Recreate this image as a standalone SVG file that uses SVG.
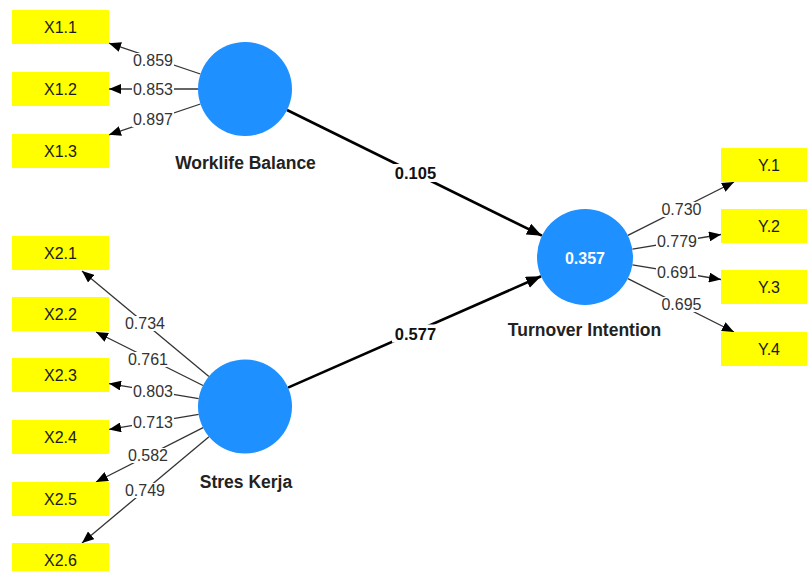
<svg xmlns="http://www.w3.org/2000/svg" width="807" height="571" viewBox="0 0 807 571">
<style>
.box{fill:#FFFF00;}
.bt{font-family:"Liberation Sans",Arial,sans-serif;font-size:16px;fill:#1a1a1a;text-anchor:middle;}
.lv{fill:#1E90FF;}
.lvl{font-family:"Liberation Sans",Arial,sans-serif;font-size:17.5px;font-weight:bold;fill:#222;text-anchor:middle;}
.r2{font-family:"Liberation Sans",Arial,sans-serif;font-size:16px;font-weight:bold;fill:#ffffff;text-anchor:middle;}
.ld{stroke:#333;stroke-width:1.3;fill:none;marker-end:url(#ah);}
.pc{stroke:#000;stroke-width:2.6;fill:none;marker-end:url(#ahb);}
.bg{fill:#fff;}
.ll{font-family:"Liberation Sans",Arial,sans-serif;font-size:16px;fill:#333;text-anchor:middle;}
.pl{font-family:"Liberation Sans",Arial,sans-serif;font-size:16.5px;font-weight:bold;fill:#111;text-anchor:middle;}
</style>
<defs>
<marker id="ah" markerUnits="userSpaceOnUse" markerWidth="12" markerHeight="10" refX="12" refY="5" orient="auto"><path d="M0,0 L12,5 L0,10 z" fill="#000"/></marker>
<marker id="ahb" markerUnits="userSpaceOnUse" markerWidth="15" markerHeight="12" refX="15" refY="6" orient="auto"><path d="M0,0 L15,6 L0,12 z" fill="#000"/></marker>
</defs>
<rect width="807" height="571" fill="#fff"/>
<g id="connectors">
<line class="ld" x1="200.4" y1="74" x2="109" y2="43.2"/>
<line class="ld" x1="198" y1="89" x2="109" y2="89"/>
<line class="ld" x1="200.4" y1="104" x2="109" y2="134.8"/>
<line class="ld" x1="208.9" y1="376.4" x2="82" y2="271"/>
<line class="ld" x1="203" y1="385.5" x2="96" y2="332"/>
<line class="ld" x1="198.7" y1="398.7" x2="109" y2="383.6"/>
<line class="ld" x1="198.7" y1="414.3" x2="109" y2="429.4"/>
<line class="ld" x1="203.1" y1="427.7" x2="96" y2="482"/>
<line class="ld" x1="209" y1="436.7" x2="82" y2="543"/>
<line class="ld" x1="627.9" y1="235.4" x2="734" y2="182"/>
<line class="ld" x1="632.4" y1="249.2" x2="721" y2="234.5"/>
<line class="ld" x1="632.4" y1="264.8" x2="721" y2="279.5"/>
<line class="ld" x1="627.9" y1="278.6" x2="734" y2="332"/>
<line class="pc" x1="287" y1="110" x2="541.9" y2="235.7"/>
<line class="pc" x1="288" y1="387.6" x2="541.1" y2="276.3"/>
<rect class="bg" x="132" y="53" width="42" height="15"/><text class="ll" x="153" y="65.7">0.859</text>
<rect class="bg" x="132" y="82" width="42" height="15"/><text class="ll" x="153" y="94.7">0.853</text>
<rect class="bg" x="132" y="112" width="42" height="15"/><text class="ll" x="153" y="124.7">0.897</text>
<rect class="bg" x="124" y="316" width="42" height="15"/><text class="ll" x="145" y="329.2">0.734</text>
<rect class="bg" x="127" y="352" width="42" height="15"/><text class="ll" x="148" y="365.2">0.761</text>
<rect class="bg" x="132" y="384" width="42" height="15"/><text class="ll" x="153" y="396.7">0.803</text>
<rect class="bg" x="132" y="415" width="42" height="15"/><text class="ll" x="153" y="427.7">0.713</text>
<rect class="bg" x="127" y="448" width="42" height="15"/><text class="ll" x="148" y="460.7">0.582</text>
<rect class="bg" x="124" y="483" width="42" height="15"/><text class="ll" x="145" y="495.7">0.749</text>
<rect class="bg" x="660.5" y="202" width="42" height="15"/><text class="ll" x="681.5" y="214.7">0.730</text>
<rect class="bg" x="656" y="234" width="42" height="15"/><text class="ll" x="677" y="246.7">0.779</text>
<rect class="bg" x="656" y="265.5" width="42" height="15"/><text class="ll" x="677" y="278.2">0.691</text>
<rect class="bg" x="660.5" y="297" width="42" height="15"/><text class="ll" x="681.5" y="309.7">0.695</text>
<rect class="bg" x="392" y="164" width="47" height="18"/><text class="pl" x="415.5" y="179">0.105</text>
<rect class="bg" x="392" y="324.5" width="47" height="18"/><text class="pl" x="415.5" y="339.5">0.577</text>
</g>
<g id="X1.1"><rect class="box" x="12" y="10" width="97" height="34"/><text class="bt" x="60.5" y="32.7">X1.1</text></g>
<g id="X1.2"><rect class="box" x="12" y="72" width="97" height="34"/><text class="bt" x="60.5" y="94.7">X1.2</text></g>
<g id="X1.3"><rect class="box" x="12" y="134" width="97" height="34"/><text class="bt" x="60.5" y="156.7">X1.3</text></g>
<g id="X2.1"><rect class="box" x="12" y="236" width="97" height="34"/><text class="bt" x="60.5" y="258.7">X2.1</text></g>
<g id="X2.2"><rect class="box" x="12" y="297" width="97" height="34"/><text class="bt" x="60.5" y="319.7">X2.2</text></g>
<g id="X2.3"><rect class="box" x="12" y="358" width="97" height="34"/><text class="bt" x="60.5" y="380.7">X2.3</text></g>
<g id="X2.4"><rect class="box" x="12" y="420" width="97" height="34"/><text class="bt" x="60.5" y="442.7">X2.4</text></g>
<g id="X2.5"><rect class="box" x="12" y="482" width="97" height="34"/><text class="bt" x="60.5" y="504.7">X2.5</text></g>
<g id="X2.6"><rect class="box" x="12" y="543" width="97" height="34"/><text class="bt" x="60.5" y="565.7">X2.6</text></g>
<g id="Y.1"><rect class="box" x="721" y="148" width="97" height="34"/><text class="bt" x="769" y="170.7">Y.1</text></g>
<g id="Y.2"><rect class="box" x="721" y="209" width="97" height="34"/><text class="bt" x="769" y="231.7">Y.2</text></g>
<g id="Y.3"><rect class="box" x="721" y="270" width="97" height="34"/><text class="bt" x="769" y="292.7">Y.3</text></g>
<g id="Y.4"><rect class="box" x="721" y="332" width="97" height="34"/><text class="bt" x="769" y="354.7">Y.4</text></g>
<g id="WorklifeBalance"><circle class="lv" cx="245" cy="89" r="47"/><text class="lvl" x="245.5" y="169.3">Worklife Balance</text></g>
<g id="StresKerja"><circle class="lv" cx="245" cy="406.5" r="47"/><text class="lvl" x="246" y="488">Stres Kerja</text></g>
<g id="TurnoverIntention"><circle class="lv" cx="585" cy="257" r="48"/><text class="r2" x="585" y="263.7">0.357</text><text class="lvl" x="584.5" y="336.3">Turnover Intention</text></g>
</svg>
